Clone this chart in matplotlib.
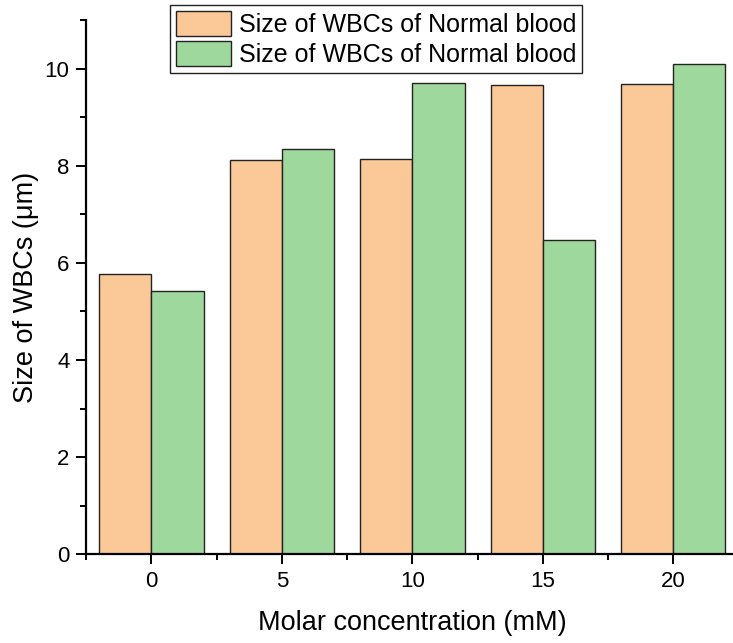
import matplotlib
matplotlib.use('Agg')
import matplotlib.pyplot as plt
import numpy as np
from matplotlib.ticker import MultipleLocator

plt.rcParams['font.family'] = ['Liberation Sans', 'DejaVu Sans']

conc = [0, 5, 10, 15, 20]
normal_a = [5.77, 8.12, 8.13, 9.66, 9.68]
normal_b = [5.41, 8.34, 9.70, 6.47, 10.10]
labels = ['Size of WBCs of Normal blood', 'Size of WBCs of Normal blood']

fig = plt.figure(figsize=(7.33, 6.43), dpi=100)
ax = fig.add_axes([0.1175, 0.138, 0.89, 0.831])

x = np.array(conc)
ax.bar(x - 1, normal_a, width=2, color='#FBC897', edgecolor='#222222', linewidth=1.0, label=labels[0])
ax.bar(x + 1, normal_b, width=2, color='#9FD89D', edgecolor='#222222', linewidth=1.0, label=labels[1])

ax.set_xlim(-2.5, 22.5)
ax.set_ylim(0, 11)
ax.set_xticks(conc)
ax.xaxis.set_minor_locator(MultipleLocator(2.5))
ax.yaxis.set_major_locator(MultipleLocator(2))
ax.yaxis.set_minor_locator(MultipleLocator(1))

for s in ['top', 'right']:
    ax.spines[s].set_visible(False)
for s in ['left', 'bottom']:
    ax.spines[s].set_linewidth(1.6)

ax.tick_params(which='major', direction='out', length=7, width=1.4, labelsize=16, pad=5)
ax.tick_params(which='minor', direction='out', length=4, width=1.4)

ax.set_xlabel('Molar concentration (mM)', fontsize=19.5, labelpad=13)
ax.set_ylabel('Size of WBCs (μm)', fontsize=19.5, labelpad=4)

leg = ax.legend(loc='upper left', bbox_to_anchor=(0.232, 0.993), bbox_transform=fig.transFigure,
                fontsize=18, fancybox=False, edgecolor='#222222', framealpha=1,
                handlelength=2.2, handleheight=1.15, handletextpad=0.3, borderpad=0.25,
                labelspacing=0.18, borderaxespad=0)
leg.get_frame().set_linewidth(1.0)

fig.savefig('out.png', dpi=100)
